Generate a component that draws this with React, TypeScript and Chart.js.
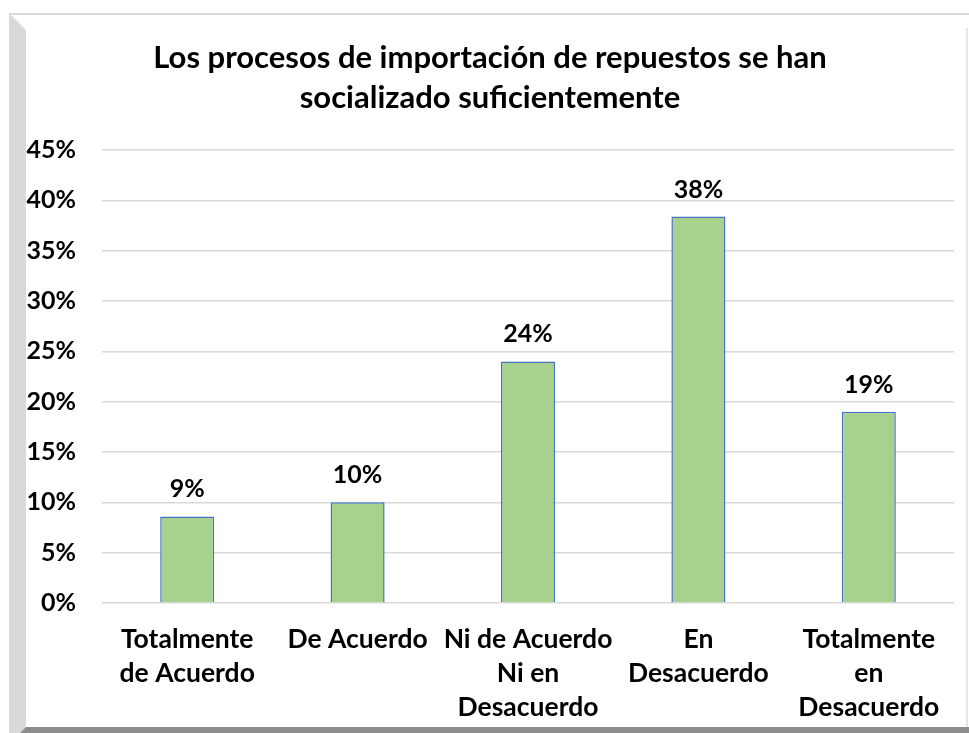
import React, { useEffect, useRef } from "react";
import { Chart, registerables } from "chart.js";

Chart.register(...registerables);

const titleLines = ["Los procesos de importación de repuestos se han", "socializado suficientemente"];
const categories: string[][] = [
  ["Totalmente", "de Acuerdo"],
  ["De Acuerdo"],
  ["Ni de Acuerdo", "Ni en", "Desacuerdo"],
  ["En", "Desacuerdo"],
  ["Totalmente", "en", "Desacuerdo"],
];
const values = [8.6, 10, 24, 38.4, 19];
const dataLabels = ["9%", "10%", "24%", "38%", "19%"];
const yMin = 0;
const yMax = 45;
const yStep = 5;

const FONT = "Lato, 'Open Sans', sans-serif";

const labelPlugin = {
  id: "barLabels",
  afterDatasetsDraw(chart: any) {
    const ctx = chart.ctx;
    const meta = chart.getDatasetMeta(0);
    ctx.save();
    ctx.font = `bold 25px ${FONT}`;
    ctx.fillStyle = "#000000";
    ctx.textAlign = "center";
    ctx.textBaseline = "middle";
    meta.data.forEach((bar: any, i: number) => {
      ctx.fillText(dataLabels[i], bar.x, bar.y - 27);
    });
    ctx.restore();
  },
};

export default function App() {
  const ref = useRef<HTMLCanvasElement | null>(null);
  useEffect(() => {
    if (!ref.current) return;
    const chart = new Chart(ref.current, {
      type: "bar",
      data: {
        labels: categories,
        datasets: [
          {
            data: values,
            backgroundColor: "#A9D18E",
            borderColor: "#4472C4",
            borderWidth: 1.5,
            barPercentage: 0.317,
            categoryPercentage: 1,
          },
        ],
      },
      options: {
        responsive: false,
        animation: false,
        devicePixelRatio: 1,
        layout: { padding: { left: 0, right: 12, top: 0, bottom: 0 } },
        plugins: {
          legend: { display: false },
          tooltip: { enabled: false },
          title: {
            display: true,
            text: titleLines,
            color: "#000000",
            font: { family: FONT, size: 31, weight: "bold", lineHeight: 40 / 31 },
            padding: { top: 23, bottom: 32 },
          },
        },
        scales: {
          x: {
            grid: { display: false, drawTicks: false },
            border: { display: false },
            ticks: {
              color: "#000000",
              font: { family: FONT, size: 26.5, weight: "bold", lineHeight: 34 / 26.5 },
              padding: 19,
              maxRotation: 0,
              autoSkip: false,
            },
            afterFit(scale: any) {
              scale.height = 124;
            },
          },
          y: {
            min: yMin,
            max: yMax,
            grid: { color: "#d9d9d9", lineWidth: 1.5, drawTicks: false },
            border: { display: false },
            ticks: {
              stepSize: yStep,
              color: "#000000",
              padding: 26,
              font: { family: FONT, size: 25, weight: "bold" },
              callback: (v: any) => `${v}%`,
            },
            afterFit(scale: any) {
              scale.width = 76;
            },
          },
        },
      },
      plugins: [labelPlugin],
    });
    return () => chart.destroy();
  }, []);

  return (
    <div style={{ position: "fixed", left: 0, top: 0, width: 969, height: 733, background: "#ffffff", overflow: "hidden" }}>
      <div style={{ position: "absolute", left: 9, top: 13, width: 960, height: 2, background: "#d9d9d9" }} />
      <div
        style={{
          position: "absolute",
          left: 9,
          top: 13,
          width: 17,
          height: 720,
          background: "#d9d9d9",
          clipPath: "polygon(0 0, 100% 17px, 100% 100%, 0 100%)",
        }}
      />
      <div
        style={{
          position: "absolute",
          left: 20,
          top: 727,
          width: 949,
          height: 6,
          background: "#8c8c8c",
          clipPath: "polygon(6px 0, 100% 0, 100% 100%, 0 100%)",
        }}
      />
      <div style={{ position: "absolute", left: 966, top: 28, width: 2, height: 699, background: "#e6e6e6" }} />
      <div style={{ position: "absolute", left: 26, top: 15, width: 940, height: 712 }}>
        <canvas ref={ref} width={940} height={712} style={{ display: "block" }} />
      </div>
    </div>
  );
}
